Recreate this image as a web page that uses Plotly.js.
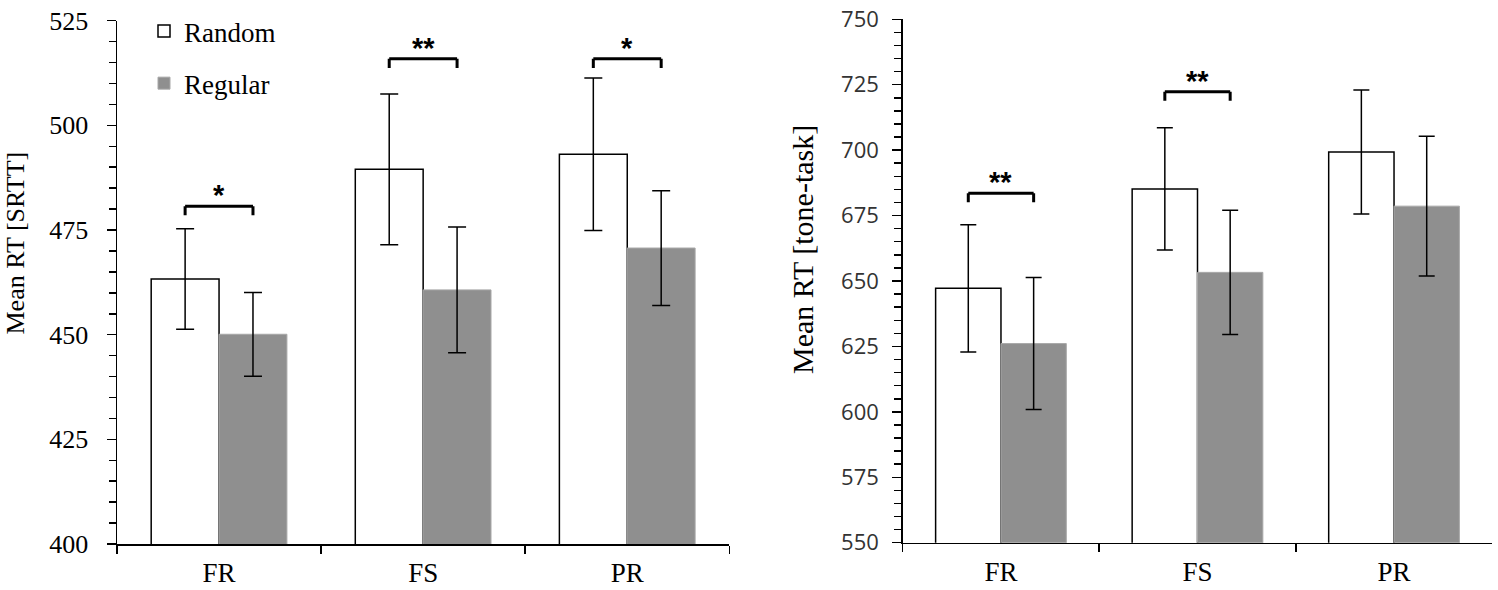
<!DOCTYPE html>
<html>
<head>
<meta charset="utf-8">
<script src="https://cdn.plot.ly/plotly-3.0.1.min.js"></script>
<style>
  html, body { margin: 0; padding: 0; background: #fff; }
  #chart { width: 1498px; height: 590px; }
</style>
</head>
<body>
<div id="chart"></div>
<script>
// ---- Data ----
const categories = ['FR', 'FS', 'PR'];

// Left panel: Mean RT [SRTT]
const srttRandom = [463.3, 489.5, 493.1];
const srttRandomErr = [12.0, 18.0, 18.2];
const srttRegular = [450.1, 460.7, 470.7];
const srttRegularErr = [10.0, 15.0, 13.7];
const srttSigLevel = [480.7, 515.9, 515.9];
const srttSigLabel = ['*', '**', '*'];

// Right panel: Mean RT [tone-task]
const toneRandom = [647.2, 685.2, 699.3];
const toneRandomErr = [24.3, 23.4, 23.7];
const toneRegular = [626.1, 653.3, 678.6];
const toneRegularErr = [25.2, 23.7, 26.7];
const toneSigLevel = [683.5, 722.3, null];
const toneSigLabel = ['**', '**', ''];

const seriesNames = ['Random', 'Regular'];

// ---- Styles ----
const W = 1498, H = 590;
const BARGAP = 0.335;
const serif = 'Liberation Serif';
const sans = 'Open Sans';
const randomFill = '#ffffff';
const randomLine = '#000000';
const regularFill = '#8f8f8f';
const regularLine = '#a8a8a8';

function barTrace(name, y, err, xa, ya, fill, line, lw, capw, showlegend) {
  return {
    type: 'bar', name: name, x: categories, y: y,
    xaxis: xa, yaxis: ya, showlegend: showlegend, legendgroup: name,
    marker: { color: fill, line: { color: line, width: lw } },
    error_y: { type: 'data', array: err, visible: true, color: '#000', thickness: 1.5, width: capw },
    hoverinfo: 'skip'
  };
}

const data = [
  barTrace(seriesNames[0], srttRandom, srttRandomErr, 'x', 'y', randomFill, randomLine, 1.5, 9, true),
  barTrace(seriesNames[1], srttRegular, srttRegularErr, 'x', 'y', regularFill, regularLine, 1, 9, true),
  barTrace(seriesNames[0], toneRandom, toneRandomErr, 'x2', 'y2', randomFill, randomLine, 1.5, 8, false),
  barTrace(seriesNames[1], toneRegular, toneRegularErr, 'x2', 'y2', regularFill, regularLine, 1, 8, false)
];

// Significance brackets between bar centres of each category
const half = (1 - BARGAP) / 4;
const shapes = [];
const annotations = [];
function addBrackets(levels, labels, xref, yref, drop) {
  levels.forEach(function (lv, i) {
    if (lv === null) return;
    const x0 = i - half, x1 = i + half;
    const ln = { color: '#000', width: 3 };
    shapes.push({ type: 'line', xref: xref, yref: yref, x0: x0, x1: x1, y0: lv, y1: lv, line: ln });
    shapes.push({ type: 'line', xref: xref, yref: yref, x0: x0, x1: x0, y0: lv, y1: lv - drop, line: ln });
    shapes.push({ type: 'line', xref: xref, yref: yref, x0: x1, x1: x1, y0: lv, y1: lv - drop, line: ln });
    annotations.push({
      xref: xref, yref: yref, x: i, y: lv, text: labels[i], showarrow: false,
      yanchor: 'middle', yshift: 11,
      font: { family: 'Liberation Sans', size: 29, color: '#000', weight: 'bold' }
    });
  });
}
addBrackets(srttSigLevel, srttSigLabel, 'x', 'y', 2.2);
addBrackets(toneSigLevel, toneSigLabel, 'x2', 'y2', 3.4);

// y-axis titles
annotations.push({
  xref: 'paper', yref: 'paper', x: 14.5 / W, y: 1 - 243 / H, text: 'Mean RT [SRTT]',
  textangle: -90, showarrow: false, xanchor: 'center', yanchor: 'middle',
  font: { family: serif, size: 26, color: '#000' }
});
annotations.push({
  xref: 'paper', yref: 'paper', x: 802 / W, y: 1 - 250 / H, text: 'Mean RT [tone-task]',
  textangle: -90, showarrow: false, xanchor: 'center', yanchor: 'middle',
  font: { family: serif, size: 30, color: '#000' }
});

function xAxis(domain, anchor) {
  return {
    domain: domain, anchor: anchor, type: 'category',
    showline: true, linecolor: '#000', linewidth: 1.5,
    ticks: 'outside', tickson: 'boundaries', ticklen: 8, tickwidth: 1.5, tickcolor: '#000',
    showgrid: false, zeroline: false, fixedrange: true,
    tickfont: { family: serif, size: 27, color: '#000' }, ticklabelstandoff: 4
  };
}
function yAxis(domain, anchor, range, font, size, color, standoff) {
  return {
    domain: domain, anchor: anchor, range: range, dtick: 25, tick0: range[0],
    showline: true, linecolor: '#000', linewidth: 1.5,
    ticks: 'outside', ticklen: 9, tickwidth: 1.5, tickcolor: '#000',
    minor: { dtick: 5, ticks: 'outside', ticklen: 7, tickwidth: 1.5, tickcolor: '#000', showgrid: false },
    showgrid: false, zeroline: false, fixedrange: true,
    tickfont: { family: font, size: size, color: color }, ticklabelstandoff: standoff
  };
}

const layout = {
  width: W, height: H, autosize: false,
  margin: { l: 0, r: 0, t: 0, b: 0, pad: 0 },
  paper_bgcolor: '#fff', plot_bgcolor: '#fff',
  barmode: 'group', bargap: BARGAP, bargroupgap: 0,
  xaxis: xAxis([117 / W, 729.3 / W], 'y'),
  yaxis: yAxis([1 - 544 / H, 1 - 20.7 / H], 'x', [400, 525], serif, 26, '#000', 13),
  xaxis2: xAxis([902.7 / W, 1492.3 / W], 'y2'),
  yaxis2: yAxis([1 - 542.7 / H, 1 - 19.3 / H], 'x2', [550, 750], sans, 22, '#333', 9),
  showlegend: true,
  legend: {
    x: 144 / W, y: 1 - 7 / H, xanchor: 'left', yanchor: 'top',
    traceorder: 'grouped', tracegroupgap: 14, bgcolor: 'rgba(0,0,0,0)',
    font: { family: serif, size: 27, color: '#000' }, itemclick: false, itemdoubleclick: false
  },
  shapes: shapes,
  annotations: annotations
};

Plotly.newPlot('chart', data, layout, { staticPlot: true, displayModeBar: false });
</script>
</body>
</html>
